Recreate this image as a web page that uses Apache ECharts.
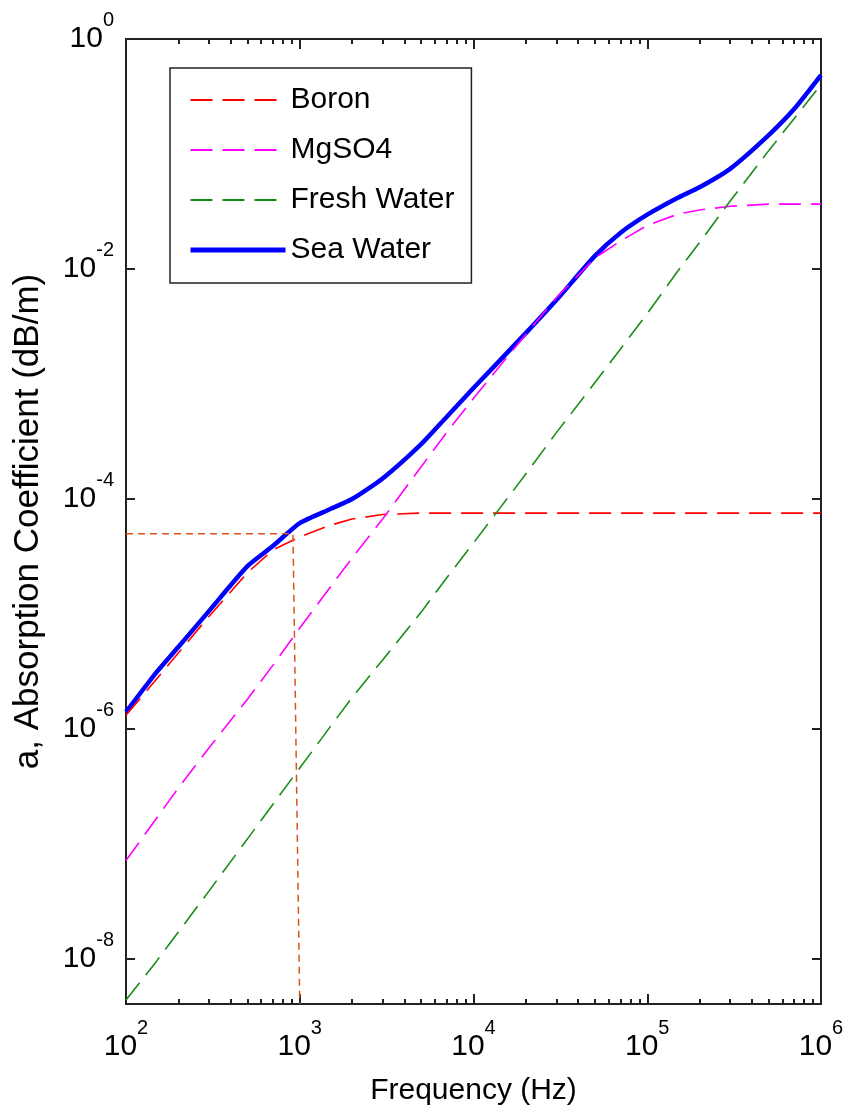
<!DOCTYPE html>
<html>
<head>
<meta charset="utf-8">
<script src="https://cdn.jsdelivr.net/npm/echarts@6/dist/echarts.min.js"></script>
<style>
html, body { margin: 0; padding: 0; background: #fff; }
#chart { width: 850px; height: 1115px; }
</style>
</head>
<body>
<div id="chart"></div>
<script>
// values (Hz, dB/m)
var freqHz = [100, 150, 200, 300, 500, 700, 1000, 1500, 2000, 3000, 5000, 7000,
    1e4, 2e4, 3e4, 5e4, 7e4, 1e5, 1.5e5, 2e5, 3e5, 5e5, 7e5, 1e6];
var boron = [1.32e-6, 2.72e-6, 4.58e-6, 9.51e-6, 2.29e-5, 3.61e-5, 4.69e-5, 5.92e-5, 6.70e-5, 7.33e-5, 7.55e-5, 7.55e-5,
    7.55e-5, 7.55e-5, 7.55e-5, 7.55e-5, 7.55e-5, 7.55e-5, 7.55e-5, 7.55e-5, 7.55e-5, 7.55e-5, 7.55e-5, 7.55e-5];
var mgso4 = [7.2e-8, 1.68e-7, 3.07e-7, 6.84e-7, 1.82e-6, 3.58e-6, 7.55e-6, 1.72e-5, 3.07e-5, 6.7e-5, 1.91e-4, 3.78e-4,
    7.51e-4, 2.70e-3, 5.63e-3, 1.25e-2, 1.75e-2, 2.40e-2, 3.00e-2, 3.26e-2, 3.51e-2, 3.67e-2, 3.67e-2, 3.67e-2];
var freshWater = [4.4e-9, 9.6e-9, 1.72e-8, 3.90e-8, 1.11e-7, 2.21e-7, 4.58e-7, 1.05e-6, 1.88e-6, 3.99e-6, 1.04e-5, 2.06e-5,
    4.15e-5, 1.65e-4, 3.78e-4, 1.03e-3, 2.01e-3, 4.1e-3, 9.6e-3, 1.70e-2, 3.90e-2, 0.107, 0.203, 0.40];
var seaWater = [1.41e-6, 3.13e-6, 5.17e-6, 1.06e-5, 2.61e-5, 3.90e-5, 6.18e-5, 8.19e-5, 1.0e-4, 1.51e-4, 3.00e-4, 5.17e-4,
    9.23e-4, 2.77e-3, 5.37e-3, 1.30e-2, 2.06e-2, 2.97e-2, 4.17e-2, 5.14e-2, 7.43e-2, 0.146, 0.246, 0.486];

// thin dotted guide marking the boron corner
var guideFreq = [100, 914, 1000];
var guideAbs = [5.0e-5, 5.0e-5, 4.07e-9];

var xExtent = [100, 1e6];
var yExtent = [4.07e-9, 1];
var xTickExp = [2, 3, 4, 5, 6];
var yTickExp = [-8, -6, -4, -2, 0];
var minorSteps = [2, 3, 4, 5, 6, 7, 8, 9];

function pairs(fs, vs) {
    return fs.map(function (f, i) { return [Math.log10(f), Math.log10(vs[i])]; });
}

var minorTicks = [];
xTickExp.slice(0, -1).forEach(function (e) {
    minorSteps.forEach(function (m) { minorTicks.push(e + Math.log10(m)); });
});

var font = '"Liberation Sans", Arial, sans-serif';
var ink = '#222';
var powRich = {
    b: { fontSize: 30, lineHeight: 58, fontFamily: font, color: '#000' },
    s: { fontSize: 20, lineHeight: 20, fontFamily: font, color: '#000', verticalAlign: 'top' }
};
function powLabel(v) {
    return '{b|10}{s|' + Math.round(v) + '}';
}

function xAxisDef(pos, ticks, len, withLabels) {
    return {
        type: 'value',
        position: pos,
        min: Math.log10(xExtent[0]),
        max: Math.log10(xExtent[1]),
        axisLine: { show: true, onZero: false, lineStyle: { color: ink, width: 2 } },
        axisTick: { show: true, inside: true, length: len, customValues: ticks, lineStyle: { color: ink, width: 2 } },
        axisLabel: withLabels ? { show: true, customValues: ticks, formatter: powLabel, rich: powRich, margin: 14 } : { show: false },
        splitLine: { show: false }
    };
}
function yAxisDef(pos, withLabels) {
    return {
        type: 'value',
        position: pos,
        min: Math.log10(yExtent[0]),
        max: Math.log10(yExtent[1]),
        axisLine: { show: true, onZero: false, lineStyle: { color: ink, width: 2 } },
        axisTick: { show: true, inside: true, length: 9, customValues: yTickExp, lineStyle: { color: ink, width: 2 } },
        axisLabel: withLabels ? { show: true, customValues: yTickExp, formatter: powLabel, rich: powRich, margin: 12 } : { show: false },
        splitLine: { show: false }
    };
}

var xBottom = xAxisDef('bottom', xTickExp, 10, true);
xBottom.name = 'Frequency (Hz)';
xBottom.nameLocation = 'middle';
xBottom.nameGap = 72;
xBottom.nameTextStyle = { fontSize: 30, fontFamily: font, color: '#000' };

var yLeft = yAxisDef('left', true);
yLeft.name = 'a, Absorption Coefficient (dB/m)';
yLeft.nameLocation = 'middle';
yLeft.nameRotate = 90;
yLeft.nameGap = 80;
yLeft.nameTextStyle = { fontSize: 35, fontFamily: font, color: '#000' };

var chart = echarts.init(document.getElementById('chart'));
chart.setOption({
    animation: false,
    backgroundColor: '#fff',
    grid: { left: 126, right: 29, top: 39, bottom: 111, containLabel: false, outerBoundsMode: 'none' },
    xAxis: [
        xBottom,
        xAxisDef('bottom', minorTicks, 5, false),
        xAxisDef('top', xTickExp, 10, false),
        xAxisDef('top', minorTicks, 5, false)
    ],
    yAxis: [yLeft, yAxisDef('right', false)],
    legend: {
        orient: 'vertical',
        left: 170,
        top: 68,
        data: ['Boron', 'MgSO4', 'Fresh Water', { name: 'Sea Water', lineStyle: { width: 5 } }],
        itemWidth: 95,
        itemHeight: 14,
        itemGap: 20,
        padding: [17, 17, 18, 18],
        borderColor: ink,
        borderWidth: 1.5,
        borderRadius: 0,
        backgroundColor: '#fff',
        selectedMode: false,
        itemStyle: { opacity: 0 },
        textStyle: { fontSize: 30, fontFamily: font, color: '#000' }
    },
    series: [
        {
            name: 'Boron', type: 'line', data: pairs(freqHz, boron),
            symbol: 'none', showSymbol: false, z: 4,
            itemStyle: { color: '#ff0000' },
            lineStyle: { color: '#ff0000', width: 1.6, type: [22, 10] }
        },
        {
            name: 'MgSO4', type: 'line', data: pairs(freqHz, mgso4),
            symbol: 'none', showSymbol: false, z: 4,
            itemStyle: { color: '#ff00ff' },
            lineStyle: { color: '#ff00ff', width: 1.6, type: [22, 10] }
        },
        {
            name: 'Fresh Water', type: 'line', data: pairs(freqHz, freshWater),
            symbol: 'none', showSymbol: false, z: 4,
            itemStyle: { color: '#1a8c1a' },
            lineStyle: { color: '#1a8c1a', width: 1.6, type: [22, 10] }
        },
        {
            name: 'Sea Water', type: 'line', data: pairs(freqHz, seaWater),
            symbol: 'none', showSymbol: false, z: 3, smooth: 0.2,
            itemStyle: { color: '#0000ff' },
            lineStyle: { color: '#0000ff', width: 4.5 }
        },
        {
            name: 'guide', type: 'line', data: pairs(guideFreq, guideAbs),
            symbol: 'none', showSymbol: false, z: 5, silent: true,
            itemStyle: { color: '#D95319' },
            lineStyle: { color: '#D95319', width: 1.5, type: [7, 5] }
        }
    ]
});
</script>
</body>
</html>
